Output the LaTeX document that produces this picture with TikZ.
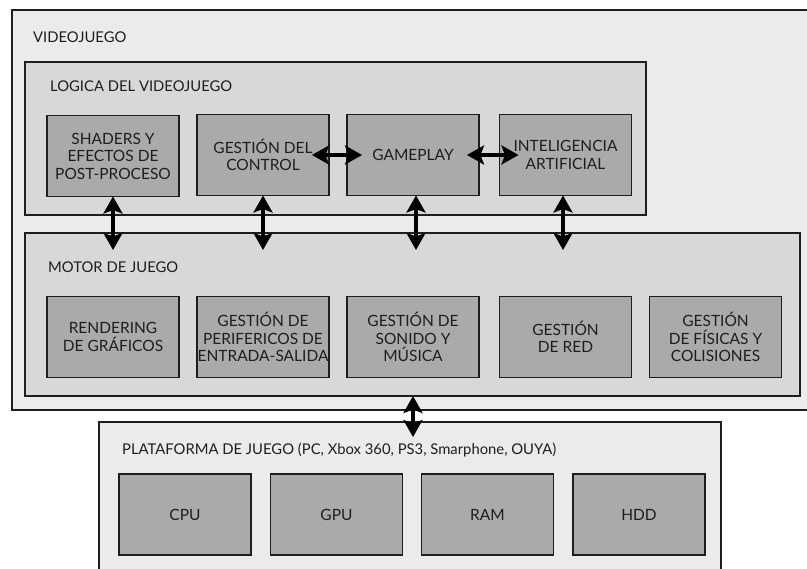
\documentclass[tikz,border=0pt]{standalone}
\usepackage{fontspec}
\setmainfont{Lato}
\usetikzlibrary{arrows.meta}
\definecolor{outerfill}{HTML}{EBEBEB}
\definecolor{midfill}{HTML}{D8D8D8}
\definecolor{boxfill}{HTML}{AAAAAA}
\definecolor{ink}{HTML}{1E1E1E}
\begin{document}
\begin{tikzpicture}[x=1pt,y=-1pt,
  region/.style={draw=ink, line width=1.4pt, anchor=north west, inner sep=0pt, outer sep=0pt},
  unit/.style={draw=ink, line width=1.4pt, fill=boxfill, minimum width=132pt, minimum height=81pt,
    inner sep=0pt, outer sep=0pt, align=center, text=ink, font=\fontsize{15.5}{17.5}\selectfont},
  title/.style={anchor=west, inner sep=0pt, text=ink, font=\fontsize{14.8}{16}\selectfont},
  tip/.tip={Stealth[length=17pt,width=19pt,inset=3.5pt]},
  link/.style={draw=black, line width=3.2pt, tip-tip}
]
\clip (0,0) rectangle (807,569);
\fill[white] (0,0) rectangle (807,569);

% nested layers
\node[region, fill=outerfill, minimum width=820pt, minimum height=400pt] (videojuego) at (12,10) {};
\node[title] (tvideojuego) at (33,37) {VIDEOJUEGO};

\node[region, fill=midfill, minimum width=621pt, minimum height=153pt] (logica) at (25,62) {};
\node[title] (tlogica) at (50,86) {LOGICA DEL VIDEOJUEGO};

\node[region, fill=midfill, minimum width=775pt, minimum height=163pt] (motor) at (25,233) {};
\node[title] (tmotor) at (48,267) {MOTOR DE JUEGO};

\node[region, fill=outerfill, minimum width=622pt, minimum height=190pt] (plataforma) at (99,422) {};
\node[title] (tplataforma) at (122,450) {PLATAFORMA DE JUEGO (PC, Xbox 360, PS3, Smarphone, OUYA)};

% game logic modules
\node[unit] (shaders)  at (113,156)   {SHADERS Y\\EFECTOS DE\\POST-PROCESO};
\node[unit] (control)  at (263,155)   {GESTIÓN DEL\\CONTROL};
\node[unit] (gameplay) at (413,155)   {GAMEPLAY};
\node[unit] (ia)       at (565.5,155) {INTELIGENCIA\\ARTIFICIAL};

% engine modules
\node[unit] (render)  at (113,337)   {RENDERING\\DE GRÁFICOS};
\node[unit] (perif)   at (263,337)   {GESTIÓN DE\\PERIFERICOS DE\\ENTRADA-SALIDA};
\node[unit] (sonido)  at (413,337)   {GESTIÓN DE\\SONIDO Y\\MÚSICA};
\node[unit] (red)     at (565.5,337) {GESTIÓN\\DE RED};
\node[unit] (fisica)  at (715.5,337) {GESTIÓN\\DE FÍSICAS Y\\COLISIONES};

% hardware
\node[unit] (cpu) at (185,514.5)   {CPU};
\node[unit] (gpu) at (336.5,514.5) {GPU};
\node[unit] (ram) at (487.5,514.5) {RAM};
\node[unit] (hdd) at (639,514.5)   {HDD};

% connectors
\draw[link] ([xshift=-17pt]control.east) -- ([xshift=15pt]gameplay.west);
\draw[link] ([xshift=-12pt]gameplay.east) -- ([xshift=19pt]ia.west);

\coordinate (mtop) at ([yshift=-17pt]motor.north);
\draw[link] (shaders.south) -- (shaders.south |- mtop);
\draw[link] (control.south) -- (control.south |- mtop);
\draw[link] ([xshift=3pt]gameplay.south) -- ([xshift=3pt]gameplay.south |- mtop);
\draw[link] ([xshift=-2.5pt]ia.south) -- ([xshift=-2.5pt]ia.south |- mtop);

\coordinate (ptop) at ([yshift=-15pt]plataforma.north);
\draw[link] (sonido.south |- motor.south) -- (sonido.south |- ptop);
\end{tikzpicture}
\end{document}
